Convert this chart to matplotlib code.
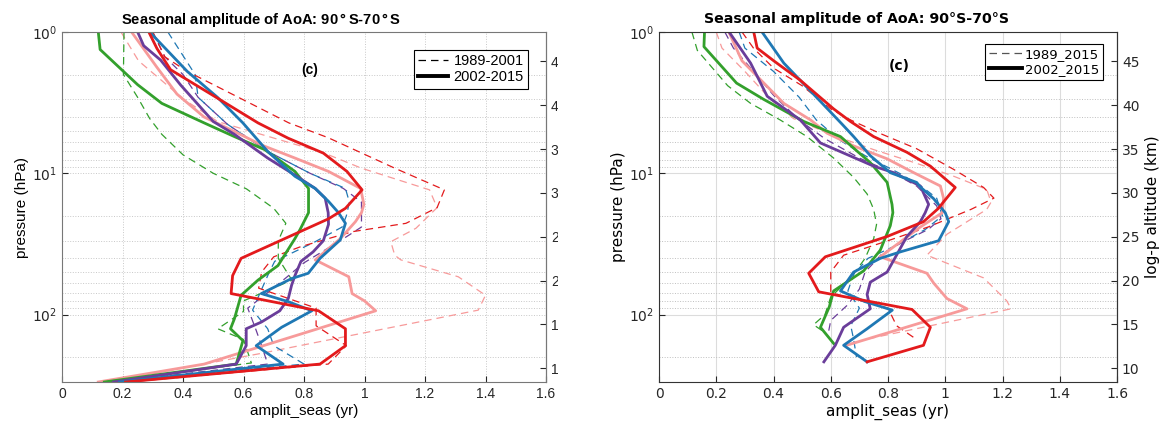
import numpy as np
import matplotlib
matplotlib.use("Agg")
import matplotlib.pyplot as plt
from matplotlib.lines import Line2D
from matplotlib.patches import Rectangle
from matplotlib.ticker import FixedLocator, NullFormatter, NullLocator, FormatStrFormatter

# ---------------- data: (pressure hPa, amplitude yr) ----------------
# left panel, 1989-2001 (dashed) and 2002-2015 (solid)
L_pink_solid_p = [1, 1.78, 2.75, 4.0, 5.06, 6.3, 7.8, 9.7, 12.8, 16.6, 19, 22, 29, 41, 54, 71, 80, 94, 224, 300]
L_pink_solid_v = [0.23, 0.314, 0.38, 0.47, 0.57, 0.659, 0.77, 0.881, 0.987, 0.998, 0.99, 0.97, 0.92, 0.837, 0.948, 0.959, 1.0, 1.037, 0.47, 0.12]
L_red_solid_p = [1, 1.31, 1.85, 2.75, 4.4, 5.65, 7.2, 9.7, 13.1, 17.7, 21, 22.6, 40, 53, 71, 94, 126, 166, 224, 300]
L_red_solid_v = [0.287, 0.314, 0.359, 0.492, 0.648, 0.748, 0.864, 0.942, 0.992, 0.937, 0.881, 0.848, 0.592, 0.564, 0.559, 0.848, 0.937, 0.937, 0.853, 0.21]
L_blue_solid_p = [1, 1.9, 2.9, 4.4, 7, 10.5, 12.8, 15.8, 19, 22.6, 29.6, 40, 51, 55.6, 71, 81, 94, 123, 166, 224, 300]
L_blue_solid_v = [0.29, 0.414, 0.514, 0.598, 0.68, 0.77, 0.837, 0.881, 0.914, 0.937, 0.92, 0.853, 0.814, 0.759, 0.659, 0.748, 0.826, 0.726, 0.642, 0.731, 0.19]
L_green_solid_p = [1, 1.33, 2.36, 3.2, 4.4, 5.5, 6.8, 9.7, 12.8, 19, 25, 29, 45, 57, 73, 107, 126, 153, 224, 300]
L_green_solid_v = [0.12, 0.126, 0.25, 0.33, 0.47, 0.57, 0.67, 0.77, 0.815, 0.815, 0.787, 0.77, 0.714, 0.648, 0.592, 0.57, 0.557, 0.598, 0.576, 0.14]
L_purple_solid_p = [1, 1.25, 1.58, 2.37, 4.3, 5.3, 7.8, 10.3, 12.8, 15, 19, 23, 30, 36, 42, 53, 62, 77, 94, 113, 126, 166, 224, 300]
L_purple_solid_v = [0.25, 0.27, 0.326, 0.392, 0.50, 0.57, 0.68, 0.77, 0.837, 0.87, 0.88, 0.881, 0.864, 0.83, 0.79, 0.77, 0.759, 0.748, 0.72, 0.659, 0.609, 0.609, 0.576, 0.17]

L_pink_dash_p = [1, 1.6, 3.0, 4.3, 7.1, 9.2, 13.1, 17.5, 24.5, 30.5, 38, 41, 54, 73, 93, 190, 300]
L_pink_dash_v = [0.195, 0.253, 0.403, 0.514, 0.86, 0.99, 1.215, 1.24, 1.17, 1.087, 1.10, 1.12, 1.31, 1.40, 1.376, 0.648, 0.15]
L_red_dash_p = [1, 1.5, 1.9, 4.4, 5.6, 9.2, 13.1, 17.5, 22.6, 25.9, 33, 39, 50, 65, 90, 120, 166, 224, 300]
L_red_dash_v = [0.30, 0.34, 0.414, 0.75, 0.88, 1.10, 1.264, 1.24, 1.137, 0.96, 0.79, 0.70, 0.66, 0.65, 0.84, 0.84, 0.94, 0.88, 0.22]
L_blue_dash_p = [1, 2.0, 2.9, 4.5, 7, 10, 12.8, 16, 20, 24, 30.5, 42, 53, 70, 93, 126, 166, 224, 300]
L_blue_dash_v = [0.35, 0.44, 0.45, 0.547, 0.68, 0.82, 0.937, 0.95, 0.94, 0.926, 0.837, 0.703, 0.68, 0.655, 0.63, 0.68, 0.70, 0.80, 0.19]
L_green_dash_p = [1, 2.0, 2.9, 4.1, 5.3, 7.4, 10, 12.9, 17.7, 22.6, 30, 40, 57, 80, 95, 126, 150, 220, 300]
L_green_dash_v = [0.205, 0.203, 0.25, 0.29, 0.33, 0.40, 0.50, 0.61, 0.70, 0.74, 0.715, 0.715, 0.76, 0.60, 0.60, 0.515, 0.60, 0.626, 0.14]
L_purple_dash_p = [1, 1.5, 2.0, 2.9, 4.5, 7, 10, 12.8, 16, 20, 24, 30, 43, 55, 70, 90, 126, 166, 224, 300]
L_purple_dash_v = [0.30, 0.34, 0.40, 0.45, 0.547, 0.68, 0.82, 0.93, 0.99, 0.99, 0.99, 0.92, 0.80, 0.74, 0.68, 0.614, 0.64, 0.66, 0.68, 0.17]

# right panel, 1989_2015 (dashed) and 2002_2015 (solid)
R_pink_solid_p = [1, 1.6, 3.2, 4.2, 5.2, 6.4, 7.9, 9.9, 12.3, 15, 19, 24, 39, 51, 60, 77, 91, 165]
R_pink_solid_v = [0.244, 0.29, 0.436, 0.53, 0.587, 0.68, 0.797, 0.89, 0.983, 0.994, 0.99, 0.913, 0.773, 0.936, 0.96, 1.006, 1.076, 0.655]
R_red_solid_p = [1, 1.3, 1.6, 2.2, 3.5, 4.3, 5.5, 7.1, 8.9, 12.6, 17.8, 22, 28, 39, 51, 69, 92, 123, 165, 216]
R_red_solid_v = [0.331, 0.343, 0.401, 0.494, 0.61, 0.669, 0.75, 0.866, 0.948, 1.035, 0.975, 0.924, 0.797, 0.581, 0.523, 0.558, 0.884, 0.948, 0.924, 0.727]
R_blue_solid_p = [1, 1.66, 3.1, 4.5, 5.5, 7.5, 9.9, 11.6, 12.5, 15.1, 19, 22, 30, 36, 40, 50, 68, 81, 93, 126, 165, 216]
R_blue_solid_v = [0.36, 0.436, 0.564, 0.64, 0.68, 0.738, 0.808, 0.9, 0.913, 0.959, 1.0, 1.012, 0.977, 0.843, 0.773, 0.68, 0.634, 0.72, 0.815, 0.727, 0.645, 0.727]
R_green_solid_p = [1, 1.27, 2.3, 3.0, 4.3, 5.5, 8.4, 11.6, 16.6, 19, 23.5, 35, 49, 68, 88, 123, 160]
R_green_solid_v = [0.159, 0.157, 0.271, 0.366, 0.506, 0.634, 0.738, 0.797, 0.814, 0.817, 0.808, 0.773, 0.715, 0.61, 0.595, 0.564, 0.61]
R_purple_solid_p = [1, 1.66, 2.85, 4.2, 6.1, 8.9, 9.9, 12.3, 16.6, 19, 22, 28, 50, 59, 72, 91, 123, 165, 216]
R_purple_solid_v = [0.245, 0.32, 0.378, 0.494, 0.564, 0.75, 0.82, 0.913, 0.942, 0.93, 0.913, 0.866, 0.797, 0.738, 0.727, 0.738, 0.645, 0.616, 0.576]

R_pink_dash_p = [1, 1.3, 1.9, 3, 4.1, 5.3, 6.8, 8.5, 10.5, 13, 16, 18, 27, 38, 55, 80, 91, 150]
R_pink_dash_v = [0.20, 0.22, 0.30, 0.39, 0.47, 0.60, 0.75, 0.90, 1.03, 1.145, 1.16, 1.145, 1.006, 0.936, 1.134, 1.215, 1.23, 0.72]
R_red_dash_p = [1, 1.3, 1.8, 2.4, 3.5, 4.2, 5.2, 6.7, 9.4, 12.6, 15, 18, 24, 30, 38, 50, 70, 90, 120, 150]
R_red_dash_v = [0.29, 0.33, 0.40, 0.50, 0.60, 0.67, 0.77, 0.90, 1.03, 1.134, 1.17, 1.09, 0.94, 0.80, 0.645, 0.60, 0.60, 0.80, 0.83, 0.90]
R_blue_dash_p = [1, 1.3, 1.9, 2.9, 4.2, 5.8, 7.5, 10, 12.5, 15, 20, 25, 33, 40, 52, 68, 90, 120, 150, 200]
R_blue_dash_v = [0.28, 0.30, 0.40, 0.49, 0.55, 0.63, 0.72, 0.84, 0.92, 0.97, 0.99, 0.93, 0.82, 0.73, 0.68, 0.66, 0.70, 0.67, 0.68, 0.69]
R_green_dash_p = [1, 1.35, 2.4, 3.2, 4.2, 5.5, 7.8, 10.7, 14, 18, 23, 29, 40, 55, 75, 100, 118, 130]
R_green_dash_v = [0.115, 0.134, 0.24, 0.32, 0.424, 0.517, 0.61, 0.68, 0.727, 0.75, 0.76, 0.75, 0.72, 0.67, 0.60, 0.58, 0.54, 0.57]
R_purple_dash_p = [1, 1.3, 1.9, 2.8, 4.2, 5.7, 7.8, 10, 12.3, 17, 21, 25, 30, 37, 50, 66, 85, 110, 140]
R_purple_dash_v = [0.23, 0.26, 0.33, 0.40, 0.49, 0.58, 0.70, 0.82, 0.90, 0.97, 0.985, 0.94, 0.86, 0.78, 0.72, 0.70, 0.66, 0.60, 0.59]

title_left = "Seasonal amplitude of AoA: 90$\\,$\u00b0$\\,$S-70$\\,$\u00b0$\\,$S"
title_right = "Seasonal amplitude of AoA: 90\u00b0S-70\u00b0S"
legend_left = ["1989-2001", "2002-2015"]
legend_right = ["1989_2015", "2002_2015"]
xticks = [0, 0.2, 0.4, 0.6, 0.8, 1.0, 1.2, 1.4, 1.6]
xtick_labels = ["0", "0.2", "0.4", "0.6", "0.8", "1", "1.2", "1.4", "1.6"]
alt_ticks = [10, 15, 20, 25, 30, 35, 40, 45]

colors = {"pink": "#f79a9a", "red": "#e31a1c", "blue": "#1f78b4",
          "green": "#33a02c", "purple": "#6a3d9a"}

left_solid = [("pink", L_pink_solid_p, L_pink_solid_v), ("green", L_green_solid_p, L_green_solid_v),
              ("purple", L_purple_solid_p, L_purple_solid_v), ("blue", L_blue_solid_p, L_blue_solid_v),
              ("red", L_red_solid_p, L_red_solid_v)]
left_dash = [("pink", L_pink_dash_p, L_pink_dash_v), ("green", L_green_dash_p, L_green_dash_v),
             ("purple", L_purple_dash_p, L_purple_dash_v), ("blue", L_blue_dash_p, L_blue_dash_v),
             ("red", L_red_dash_p, L_red_dash_v)]
right_solid = [("pink", R_pink_solid_p, R_pink_solid_v), ("green", R_green_solid_p, R_green_solid_v),
               ("purple", R_purple_solid_p, R_purple_solid_v), ("blue", R_blue_solid_p, R_blue_solid_v),
               ("red", R_red_solid_p, R_red_solid_v)]
right_dash = [("pink", R_pink_dash_p, R_pink_dash_v), ("green", R_green_dash_p, R_green_dash_v),
              ("purple", R_purple_dash_p, R_purple_dash_v), ("blue", R_blue_dash_p, R_blue_dash_v),
              ("red", R_red_dash_p, R_red_dash_v)]


def p2z(p):
    p = np.clip(np.asarray(p, dtype=float), 1e-6, None)
    return 7.0 * np.log(1000.0 / p)


def z2p(z):
    return 1000.0 * np.exp(-np.asarray(z, dtype=float) / 7.0)


def draw_panel(ax, solid, dash, font, matlab_grid):
    for name, p, v in dash:
        ax.plot(v, p, color=colors[name], lw=0.9, dashes=(6, 4))
    for name, p, v in solid:
        ax.plot(v, p, color=colors[name], lw=2.0)
    ax.set_yscale("log")
    ax.set_ylim(300, 1)
    ax.set_xlim(0, 1.6)
    ax.set_xticks(xticks)
    ax.set_xticklabels(xtick_labels, family=font)
    ax.yaxis.set_major_locator(FixedLocator([1, 10, 100]))
    ax.yaxis.set_minor_locator(FixedLocator([k * 10 ** e for e in range(3) for k in range(2, 10)]))
    ax.yaxis.set_minor_formatter(NullFormatter())
    ax.set_yticklabels(["$10^0$", "$10^1$", "$10^2$"])
    ax.tick_params(which="both", direction="in", labelsize=10, colors="#262626")
    ax.tick_params(which="minor", length=0)
    ax.tick_params(which="major", length=4)
    for lbl in ax.get_yticklabels():
        lbl.set_family(font)
    if matlab_grid:
        ax.grid(True, which="major", axis="x", color="#c8c8c8", lw=0.7, ls=":")
        ax.grid(True, which="both", axis="y", color="#c8c8c8", lw=0.7, ls=":")
        for s in ax.spines.values():
            s.set_color("#777777")
    else:
        ax.grid(True, which="major", color="#dcdcdc", lw=0.8, ls="-")
        ax.grid(True, which="minor", axis="y", color="#bfbfbf", lw=0.7, ls=":")
        for s in ax.spines.values():
            s.set_color("#333333")
    ax.set_axisbelow(True)
    ax.set_xlabel("amplit_seas (yr)", family=font, fontsize=11, labelpad=2)
    ax.set_ylabel("pressure (hPa)", family=font, fontsize=11, labelpad=2)
    sec = ax.secondary_yaxis("right", functions=(p2z, z2p))
    sec.yaxis.set_major_locator(FixedLocator(alt_ticks))
    sec.yaxis.set_major_formatter(FormatStrFormatter("%d"))
    sec.yaxis.set_minor_locator(NullLocator())
    sec.yaxis.set_minor_formatter(NullFormatter())
    sec.tick_params(direction="in", length=4, labelsize=10, colors="#262626")
    sec.spines["right"].set_color("#777777" if matlab_grid else "#333333")
    for lbl in sec.get_yticklabels():
        lbl.set_family(font)
    return sec


fig = plt.figure(figsize=(11.64, 4.23), dpi=100)
axL = fig.add_axes([62 / 1164, 41 / 423, 484 / 1164, 350 / 423])
axR = fig.add_axes([659 / 1164, 41 / 423, 458 / 1164, 350 / 423])

draw_panel(axL, left_solid, left_dash, "Liberation Sans", True)
secR = draw_panel(axR, right_solid, right_dash, "DejaVu Sans", False)
secR.set_ylabel("log-p altitude (km)", family="DejaVu Sans", fontsize=11)

# titles sit a little left of the axes centre in the original
fig.text(261 / 1164, 1 - 20 / 423, title_left, family="Liberation Sans", fontsize=10.6,
         fontweight="bold", ha="center", va="center")
fig.text(856 / 1164, 1 - 19 / 423, title_right, family="DejaVu Sans", fontsize=10.2,
         fontweight="bold", ha="center", va="center")

axL.text(0.82, 1.87, "(c)", family="Liberation Sans", fontsize=10, fontweight="bold", ha="center", va="center")
axR.text(0.84, 1.75, "(c)", family="DejaVu Sans", fontsize=10, fontweight="bold", ha="center", va="center")

h_l = [Line2D([], [], color="black", lw=0.9, dashes=(6, 4)), Line2D([], [], color="black", lw=2.8)]
legL = axL.legend(h_l, legend_left, loc="upper right", bbox_to_anchor=(0.963, 0.949), borderaxespad=0,
                  fancybox=False, edgecolor="black", framealpha=1, handlelength=2.0,
                  handletextpad=0.4, labelspacing=0.15, borderpad=0.3,
                  prop={"family": "Liberation Sans", "size": 10.5})
legL.get_frame().set_linewidth(0.8)
h_r = [Line2D([], [], color="#555555", lw=0.9, dashes=(6, 4)), Line2D([], [], color="black", lw=2.8)]
legR = axR.legend(h_r, legend_right, loc="upper right", bbox_to_anchor=(0.969, 0.966), borderaxespad=0,
                  fancybox=False, edgecolor="black", framealpha=1, handlelength=2.5,
                  handletextpad=0.2, labelspacing=0.15, borderpad=0.3,
                  prop={"family": "DejaVu Sans", "size": 9.5})
legR.get_frame().set_linewidth(0.8)

# the left panel's altitude labels are cut off in the original image
fig.add_artist(Rectangle((558 / 1164, 0.1), 40 / 1164, 0.85, transform=fig.transFigure,
                         facecolor="white", edgecolor="none", zorder=10))

fig.savefig("out.png", dpi=100)
